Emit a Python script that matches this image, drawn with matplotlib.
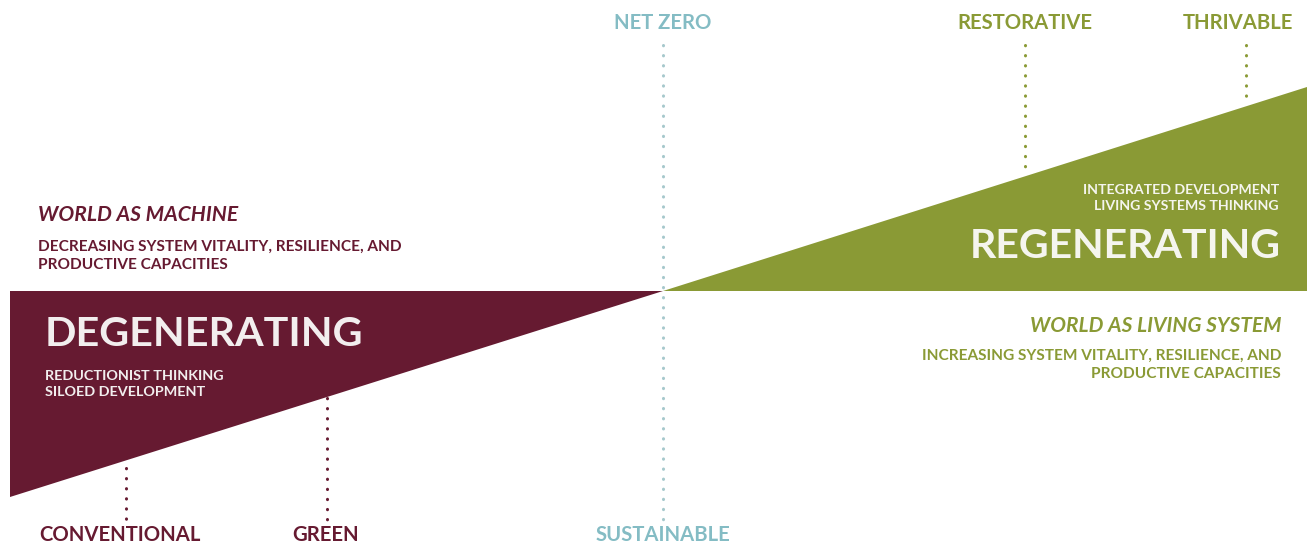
import matplotlib
matplotlib.use('Agg')
import matplotlib.pyplot as plt
from matplotlib.patches import Polygon

plt.rcParams['font.family'] = ['Lato', 'DejaVu Sans']

# colours
maroon = '#661a31'
olive = '#8a9a35'
teal = '#84bcc4'
teal_dots = '#a6c8cc'

# spectrum (pixel space of the original diagram: x to the right, y downwards)
baseline_y = 291
degen_x = [10, 663, 10]
degen_y = [291, 291, 497]
regen_x = [663, 1307, 1307]
regen_y = [291, 291, 87]

# stages on the spectrum
stage_names = ['CONVENTIONAL', 'GREEN', 'SUSTAINABLE', 'NET ZERO', 'RESTORATIVE', 'THRIVABLE']
stage_x = [126, 327, 663, 663, 1025, 1246]
stage_label_x = [120, 326, 663, 663, 1025, 1238]
stage_side = ['bottom', 'bottom', 'bottom', 'top', 'top', 'top']
stage_dot_from = [468, 398, 45, 45, 45, 45]
stage_dot_to = [520, 520, 520, 520, 172, 105]
stage_colors = [maroon, maroon, teal, teal, olive, olive]
dot_colors = [maroon, maroon, teal_dots, teal_dots, olive, olive]

fig = plt.figure(figsize=(13.07, 5.45), dpi=100)
ax = fig.add_axes([0, 0, 1, 1])
ax.set_xlim(0, 1307)
ax.set_ylim(545, 0)
ax.axis('off')

ax.add_patch(Polygon(list(zip(degen_x, degen_y)), closed=True, fc=maroon, ec='none'))
ax.add_patch(Polygon(list(zip(regen_x, regen_y)), closed=True, fc=olive, ec='none'))

for i in range(len(stage_names)):
    if stage_side[i] == 'bottom' or stage_names[i] != 'NET ZERO':
        ax.plot([stage_x[i], stage_x[i]], [stage_dot_from[i], stage_dot_to[i]],
                color=dot_colors[i], lw=2.2, linestyle=(0, (0.1, 3.2)),
                dash_capstyle='round', zorder=3)
    ty = 535 if stage_side[i] == 'bottom' else 23
    ax.text(stage_label_x[i], ty, stage_names[i], color=stage_colors[i],
            fontsize=14.6, fontweight='bold', ha='center', va='center')

# left side texts
ax.text(38, 215, 'WORLD AS MACHINE', color=maroon, fontsize=15.1,
        fontweight='bold', style='italic', ha='left', va='center')
ax.text(38, 256, 'DECREASING SYSTEM VITALITY, RESILIENCE, AND\nPRODUCTIVE CAPACITIES',
        color=maroon, fontsize=11.1, fontweight='bold', ha='left', va='center',
        linespacing=1.35)
ax.text(45, 335, 'DEGENERATING', color='#f2eeee', fontsize=29.7,
        fontweight='bold', ha='left', va='center')
ax.text(45, 384, 'REDUCTIONIST THINKING\nSILOED DEVELOPMENT', color='#f2eeee',
        fontsize=10.4, fontweight='bold', ha='left', va='center', linespacing=1.35)

# right side texts
ax.text(1279, 198, 'INTEGRATED DEVELOPMENT\nLIVING SYSTEMS THINKING', color='#f5f5ee',
        fontsize=10.2, fontweight='bold', ha='right', va='center', linespacing=1.35,
        multialignment='right')
ax.text(1281, 247, 'REGENERATING', color='#f5f5ee', fontsize=29.5,
        fontweight='bold', ha='right', va='center')
ax.text(1281, 326, 'WORLD AS LIVING SYSTEM', color=olive, fontsize=15,
        fontweight='bold', style='italic', ha='right', va='center')
ax.text(1281, 365, 'INCREASING SYSTEM VITALITY, RESILIENCE, AND\nPRODUCTIVE CAPACITIES',
        color=olive, fontsize=11.1, fontweight='bold', ha='right', va='center',
        linespacing=1.35, multialignment='right')

fig.savefig('out.png', dpi=100)
